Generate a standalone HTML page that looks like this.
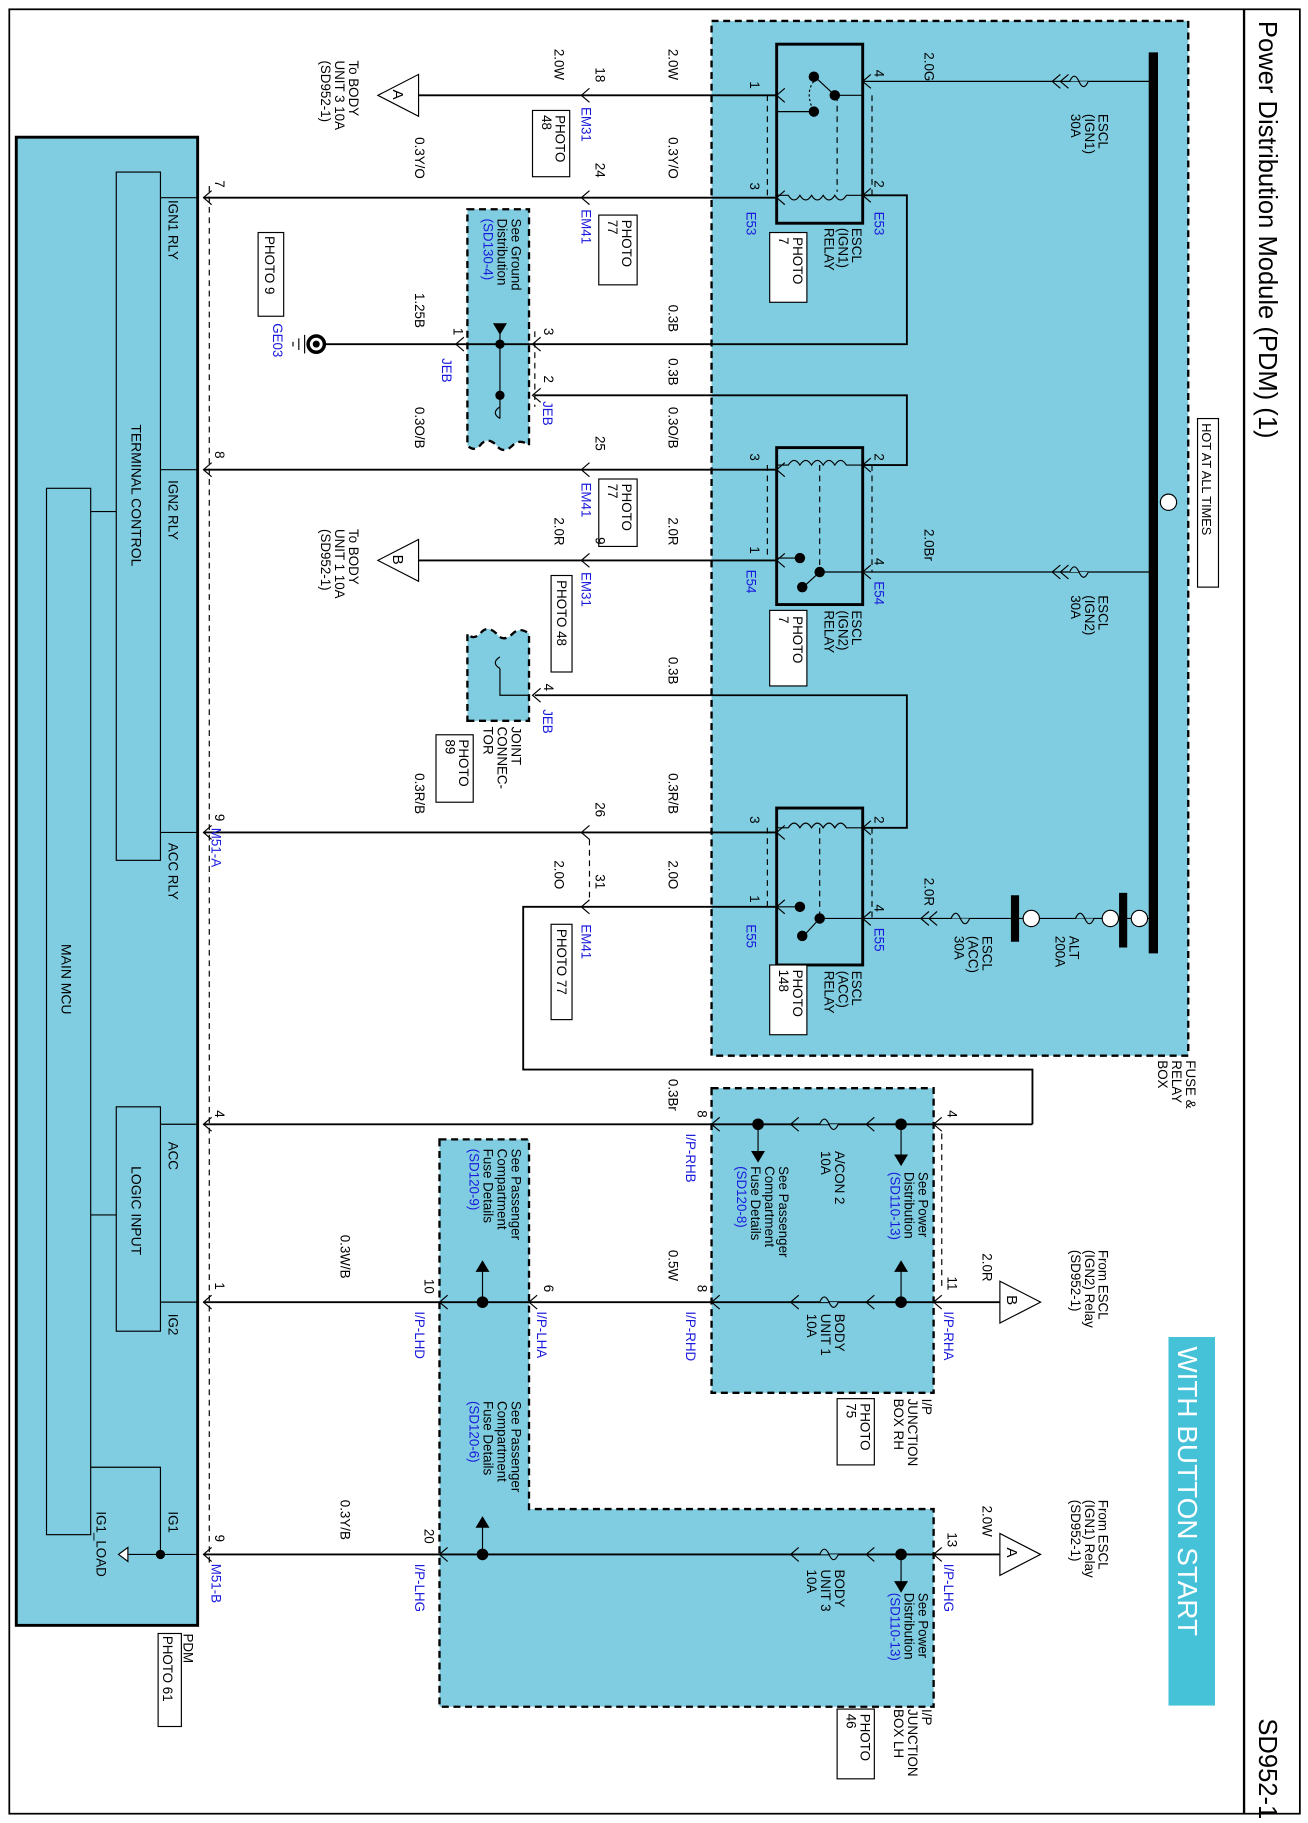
<!DOCTYPE html>
<html><head><meta charset="utf-8"><style>
html,body{margin:0;padding:0;background:#fff}
svg{display:block}
text{font-family:"Liberation Sans",sans-serif;font-size:11.5px;fill:#000}
.b{fill:#1a1adc}
.w{stroke:#000;stroke-width:1.6;fill:none}
.t{stroke:#000;stroke-width:1;fill:none}
.d{stroke:#000;stroke-width:1;fill:none;stroke-dasharray:5,4}
.box{fill:#80cde1;stroke:#000;stroke-width:2;stroke-dasharray:6,4}
</style></head><body>
<svg width="1308" height="1823" viewBox="0 0 1125 1568" preserveAspectRatio="none" xmlns="http://www.w3.org/2000/svg">
<defs>
<g id="cl"><polyline points="7,-6 0,0 7,6" class="t"/></g>
</defs>
<rect x="0" y="0" width="1125" height="1568" fill="#fff"/>
<rect x="8" y="8" width="1110" height="1552" fill="none" stroke="#000" stroke-width="1.5"/>
<line x1="1070" y1="8" x2="1070" y2="1560" stroke="#000" stroke-width="2"/>

<rect x="612" y="18" width="410" height="890" class="box"/>
<rect x="612" y="936" width="191" height="262" class="box"/>
<path d="M378,980 L455,980 L455,1298 L803,1298 L803,1468 L378,1468 Z" class="box"/>
<path d="M402,180 L455,180 L455,383 q-8,-6 -14,0 q-8,8 -14,0 q-8,-8 -14,0 q-6,6 -11,0 Z" class="box"/>
<path d="M402,620 L455,620 L455,545 q-8,-6 -14,0 q-8,8 -14,0 q-8,-8 -14,0 q-6,6 -11,0 Z" class="box"/>
<rect x="14" y="118" width="156" height="1280" fill="#80cde1" stroke="#000" stroke-width="2.5"/>
<rect x="100" y="148" width="38" height="592" fill="#80cde1" stroke="#000" stroke-width="1"/>
<rect x="40" y="420" width="38" height="900" fill="#80cde1" stroke="#000" stroke-width="1"/>
<rect x="100" y="952" width="38" height="193" fill="#80cde1" stroke="#000" stroke-width="1"/>
<line x1="78" y1="440" x2="100" y2="440" class="t"/>
<line x1="78" y1="1045" x2="100" y2="1045" class="t"/>
<line x1="180" y1="160" x2="180" y2="1345" class="d"/>
<line x1="138" y1="170" x2="170" y2="170" class="t"/>
<line x1="138" y1="404" x2="170" y2="404" class="t"/>
<line x1="138" y1="716" x2="170" y2="716" class="t"/>
<line x1="138" y1="967" x2="170" y2="967" class="t"/>
<line x1="138" y1="1120" x2="170" y2="1120" class="t"/>
<line x1="110" y1="1337" x2="170" y2="1337" class="t"/>
<polyline points="138,1337 138,1262 78,1262" class="t"/>
<circle cx="138" cy="1337" r="4"/>
<polygon points="110,1331 110,1343 102,1337" fill="#fff" stroke="#000"/>

<line x1="992" y1="45" x2="992" y2="820" stroke="#000" stroke-width="8"/>
<circle cx="1005" cy="432" r="7" fill="#fff" stroke="#000"/>
<rect x="1030" y="360" width="18" height="145" fill="#fff" stroke="#000"/>
<rect x="1005" y="1150" width="40" height="317" fill="#45c1d8"/>

<g>
<rect x="668" y="38" width="74" height="154" fill="none" stroke="#000" stroke-width="2.5"/>
<rect x="668" y="385" width="74" height="135" fill="none" stroke="#000" stroke-width="2.5"/>
<rect x="668" y="695" width="74" height="135" fill="none" stroke="#000" stroke-width="2.5"/>
<circle cx="700" cy="66" r="4.5"/><circle cx="718" cy="82" r="4.5"/><circle cx="700" cy="96" r="4.5"/>
<line x1="718" y1="82" x2="703" y2="68" class="t"/>
<line x1="668" y1="96" x2="700" y2="96" class="t"/><line x1="718" y1="82" x2="742" y2="82" class="t"/>
<path d="M700,70 q-8,10 0,26" class="t" stroke-dasharray="2,2"/>
<line x1="720" y1="82" x2="720" y2="165" class="d"/>
<path d="M668,168 L678,168 q5,8 10,0 q5,8 10,0 q5,8 10,0 q5,8 10,0 q5,8 10,0 L742,168" class="t"/>
<line x1="660" y1="82" x2="660" y2="168" class="d"/><line x1="750" y1="82" x2="750" y2="168" class="d"/>
<path d="M668,400 L678,400 q5,-8 10,0 q5,-8 10,0 q5,-8 10,0 q5,-8 10,0 q5,-8 10,0 L742,400" class="t"/>
<line x1="705" y1="400" x2="705" y2="490" class="d"/>
<circle cx="688" cy="480" r="4.5"/><circle cx="705" cy="492" r="4.5"/><circle cx="690" cy="505" r="4.5"/>
<line x1="668" y1="480" x2="688" y2="480" class="t"/><line x1="705" y1="492" x2="742" y2="492" class="t"/>
<line x1="705" y1="492" x2="693" y2="503" class="t"/>
<line x1="660" y1="400" x2="660" y2="480" class="d"/><line x1="750" y1="400" x2="750" y2="492" class="d"/>
<path d="M668,712 L678,712 q5,-8 10,0 q5,-8 10,0 q5,-8 10,0 q5,-8 10,0 q5,-8 10,0 L742,712" class="t"/>
<line x1="705" y1="712" x2="705" y2="790" class="d"/>
<circle cx="688" cy="780" r="4.5"/><circle cx="705" cy="790" r="4.5"/><circle cx="690" cy="805" r="4.5"/>
<line x1="668" y1="780" x2="688" y2="780" class="t"/><line x1="705" y1="790" x2="742" y2="790" class="t"/>
<line x1="705" y1="790" x2="693" y2="803" class="t"/>
<line x1="660" y1="712" x2="660" y2="780" class="d"/><line x1="750" y1="712" x2="750" y2="790" class="d"/>
</g>

<line x1="742" y1="70" x2="992" y2="70" class="t"/>
<use href="#cl" x="742" y="70"/><use href="#cl" x="905" y="70"/><use href="#cl" x="912" y="70"/>
<path d="M920,70 q4,-9 8,0 q4,9 8,0" fill="#80cde1" stroke="#000"/>
<line x1="742" y1="492" x2="992" y2="492" class="t"/>
<use href="#cl" x="742" y="492"/><use href="#cl" x="905" y="492"/><use href="#cl" x="912" y="492"/>
<path d="M920,492 q4,-9 8,0 q4,9 8,0" fill="#80cde1" stroke="#000"/>
<line x1="742" y1="790" x2="992" y2="790" class="t"/>
<use href="#cl" x="742" y="790"/><use href="#cl" x="792" y="790"/><use href="#cl" x="799" y="790"/>
<path d="M818,790 q4,-9 8,0 q4,9 8,0" fill="#80cde1" stroke="#000"/>
<path d="M925,790 q4,-9 8,0 q4,9 8,0" fill="#80cde1" stroke="#000"/>
<line x1="873" y1="770" x2="873" y2="810" stroke="#000" stroke-width="7"/>
<line x1="966" y1="768" x2="966" y2="815" stroke="#000" stroke-width="7"/>
<circle cx="887" cy="790" r="7" fill="#fff" stroke="#000"/>
<circle cx="955" cy="790" r="7" fill="#fff" stroke="#000"/>
<circle cx="980" cy="790" r="7" fill="#fff" stroke="#000"/>

<polyline points="742,168 780,168 780,296 460,296" class="w"/>
<polyline points="742,400 780,400 780,340 460,340" class="w"/>
<polyline points="742,712 780,712 780,598 460,598" class="w"/>
<use href="#cl" x="742" y="168"/><use href="#cl" x="742" y="400"/><use href="#cl" x="742" y="712"/>

<line x1="360" y1="82" x2="668" y2="82" class="w"/><use href="#cl" x="668" y="82"/><use href="#cl" x="500" y="82"/>
<line x1="175" y1="170" x2="668" y2="170" class="w"/><use href="#cl" x="668" y="170"/><use href="#cl" x="500" y="170"/><use href="#cl" x="175" y="170"/>
<line x1="280" y1="296" x2="460" y2="296" class="w"/><use href="#cl" x="458" y="296"/><use href="#cl" x="392" y="296"/>
<use href="#cl" x="458" y="340"/>
<line x1="175" y1="404" x2="668" y2="404" class="w"/><use href="#cl" x="668" y="404"/><use href="#cl" x="500" y="404"/><use href="#cl" x="175" y="404"/>
<line x1="360" y1="482" x2="668" y2="482" class="w"/><use href="#cl" x="668" y="482"/><use href="#cl" x="500" y="482"/>
<use href="#cl" x="458" y="598"/>
<line x1="175" y1="716" x2="668" y2="716" class="w"/><use href="#cl" x="668" y="716"/><use href="#cl" x="500" y="716"/><use href="#cl" x="175" y="716"/>
<polyline points="668,780 450,780 450,920 888,920 888,967" class="w"/><use href="#cl" x="668" y="780"/><use href="#cl" x="500" y="780"/>
<line x1="507" y1="722" x2="507" y2="774" class="d"/>
<line x1="430" y1="280" x2="430" y2="360" class="t"/><circle cx="430" cy="296" r="4"/><circle cx="430" cy="340" r="4"/>
<polygon points="424,278 436,278 430,288"/>
<path d="M430,350 q-8,5 0,10" class="t"/>
<polyline points="455,598 430,598 430,575" class="t"/><path d="M430,575 q-8,-5 0,-10" class="t"/>
<line x1="460" y1="285" x2="460" y2="350" class="d"/>
<circle cx="272" cy="296" r="7" fill="#fff" stroke="#000" stroke-width="3"/><circle cx="272" cy="296" r="3"/>
<line x1="262" y1="288" x2="262" y2="304" class="t"/><line x1="257" y1="291" x2="257" y2="301" class="t"/><line x1="252" y1="294" x2="252" y2="298" class="t"/>
<polygon points="360,64 360,100 325,82" fill="#fff" stroke="#000"/>
<polygon points="360,464 360,500 325,482" fill="#fff" stroke="#000"/>
<polygon points="860,1102 860,1138 895,1120" fill="#fff" stroke="#000"/>
<polygon points="860,1319 860,1355 895,1337" fill="#fff" stroke="#000"/>

<line x1="175" y1="967" x2="888" y2="967" class="w"/><use href="#cl" x="803" y="967"/><use href="#cl" x="612" y="967"/><use href="#cl" x="175" y="967"/>
<use href="#cl" x="745" y="967"/><use href="#cl" x="680" y="967"/>
<path d="M705,967 q4,-9 8,0 q4,9 8,0" fill="#80cde1" stroke="#000"/>
<circle cx="775" cy="967" r="5"/><circle cx="652" cy="967" r="5"/>
<line x1="775" y1="967" x2="775" y2="995" class="t"/><polygon points="769,993 781,993 775,1003"/>
<line x1="652" y1="967" x2="652" y2="992" class="t"/><polygon points="646,990 658,990 652,1000"/>
<line x1="175" y1="1120" x2="860" y2="1120" class="w"/>
<use href="#cl" x="803" y="1120"/><use href="#cl" x="612" y="1120"/><use href="#cl" x="455" y="1120"/><use href="#cl" x="378" y="1120"/><use href="#cl" x="175" y="1120"/>
<use href="#cl" x="745" y="1120"/><use href="#cl" x="680" y="1120"/>
<path d="M705,1120 q4,-9 8,0 q4,9 8,0" fill="#80cde1" stroke="#000"/>
<circle cx="775" cy="1120" r="5"/><circle cx="415" cy="1120" r="5"/>
<line x1="775" y1="1120" x2="775" y2="1092" class="t"/><polygon points="769,1094 781,1094 775,1084"/>
<line x1="415" y1="1120" x2="415" y2="1092" class="t"/><polygon points="409,1094 421,1094 415,1084"/>
<line x1="175" y1="1337" x2="860" y2="1337" class="w"/>
<use href="#cl" x="803" y="1337"/><use href="#cl" x="378" y="1337"/><use href="#cl" x="175" y="1337"/>
<use href="#cl" x="745" y="1337"/><use href="#cl" x="680" y="1337"/>
<path d="M705,1337 q4,-9 8,0 q4,9 8,0" fill="#80cde1" stroke="#000"/>
<circle cx="775" cy="1337" r="5"/><circle cx="415" cy="1337" r="5"/>
<line x1="775" y1="1337" x2="775" y2="1362" class="t"/><polygon points="769,1360 781,1360 775,1370"/>
<line x1="415" y1="1337" x2="415" y2="1312" class="t"/><polygon points="409,1314 421,1314 415,1304"/>
<line x1="810" y1="975" x2="810" y2="1110" class="d"/>

<g fill="#fff" stroke="#000" stroke-width="1">
<rect x="662" y="200" width="32" height="60"/><rect x="662" y="525" width="32" height="65"/><rect x="662" y="830" width="32" height="60"/>
<rect x="458" y="95" width="32" height="57"/><rect x="515" y="185" width="33" height="60"/><rect x="222" y="200" width="22" height="72"/>
<rect x="515" y="412" width="33" height="58"/><rect x="474" y="495" width="18" height="83"/><rect x="375" y="632" width="32" height="58"/>
<rect x="474" y="795" width="18" height="82"/><rect x="720" y="1203" width="32" height="57"/><rect x="720" y="1470" width="32" height="60"/>
<rect x="136" y="1405" width="20" height="80"/>
</g>

<g transform="rotate(90)">
<text x="18" y="-1083" style="font-size:22px">Power Distribution Module (PDM) (1)</text>
<text x="1478" y="-1083" style="font-size:22px">SD952-1</text>
<text x="1158" y="-1013" style="font-size:24px;fill:#fff">WITH BUTTON START</text>
<text x="364" y="-1034" style="font-size:11px">HOT AT ALL TIMES</text>
<text x="912" y="-1020"><tspan>FUSE &amp;</tspan><tspan x="912" dy="12">RELAY</tspan><tspan x="912" dy="12">BOX</tspan></text>
<text x="98" y="-945"><tspan>ESCL</tspan><tspan x="98" dy="12">(IGN1)</tspan><tspan x="98" dy="12">30A</tspan></text>
<text x="512" y="-945"><tspan>ESCL</tspan><tspan x="512" dy="12">(IGN2)</tspan><tspan x="512" dy="12">30A</tspan></text>
<text x="805" y="-845"><tspan>ESCL</tspan><tspan x="805" dy="12">(ACC)</tspan><tspan x="805" dy="12">30A</tspan></text>
<text x="805" y="-920"><tspan>ALT</tspan><tspan x="805" dy="12">200A</tspan></text>
<text x="45" y="-795">2.0G</text><text x="455" y="-795">2.0Br</text><text x="755" y="-795">2.0R</text>
<text x="60" y="-752">4</text><text x="155" y="-752">2</text><text x="182" y="-752" class="b">E53</text>
<text x="70" y="-645">1</text><text x="157" y="-645">3</text><text x="182" y="-642" class="b">E53</text>
<text x="196" y="-733"><tspan>ESCL</tspan><tspan x="196" dy="12">(IGN1)</tspan><tspan x="196" dy="12">RELAY</tspan></text>
<text x="204" y="-682"><tspan>PHOTO</tspan><tspan x="204" dy="12">7</tspan></text>
<text x="390" y="-752">2</text><text x="480" y="-752">4</text><text x="500" y="-752" class="b">E54</text>
<text x="390" y="-645">3</text><text x="470" y="-645">1</text><text x="490" y="-642" class="b">E54</text>
<text x="525" y="-733"><tspan>ESCL</tspan><tspan x="525" dy="12">(IGN2)</tspan><tspan x="525" dy="12">RELAY</tspan></text>
<text x="530" y="-682"><tspan>PHOTO</tspan><tspan x="530" dy="12">7</tspan></text>
<text x="702" y="-752">2</text><text x="778" y="-752">4</text><text x="798" y="-752" class="b">E55</text>
<text x="702" y="-645">3</text><text x="770" y="-645">1</text><text x="795" y="-642" class="b">E55</text>
<text x="835" y="-733"><tspan>ESCL</tspan><tspan x="835" dy="12">(ACC)</tspan><tspan x="835" dy="12">RELAY</tspan></text>
<text x="834" y="-682"><tspan>PHOTO</tspan><tspan x="834" dy="12">148</tspan></text>

<text x="42" y="-575">2.0W</text><text x="58" y="-512">18</text><text x="92" y="-500" class="b">EM31</text>
<text x="99" y="-478"><tspan>PHOTO</tspan><tspan x="99" dy="12">48</tspan></text>
<text x="42" y="-477">2.0W</text>
<text x="77" y="-338" style="font-size:13px">A</text>
<text x="52" y="-300"><tspan>To BODY</tspan><tspan x="52" dy="12">UNIT 3 10A</tspan><tspan x="52" dy="12">(SD952-1)</tspan></text>
<text x="118" y="-575">0.3Y/O</text><text x="140" y="-512">24</text><text x="180" y="-500" class="b">EM41</text>
<text x="189" y="-535"><tspan>PHOTO</tspan><tspan x="189" dy="12">77</tspan></text>
<text x="118" y="-357">0.3Y/O</text><text x="155" y="-185">7</text>
<text x="262" y="-575">0.3B</text><text x="282" y="-468">3</text>
<text x="282" y="-390">1</text><text x="308" y="-380" class="b">JEB</text>
<text x="252" y="-357">1.25B</text><text x="278" y="-235" class="b">GE03</text>
<text x="203" y="-228">PHOTO 9</text>
<text x="308" y="-575">0.3B</text><text x="323" y="-468">2</text><text x="345" y="-467" class="b">JEB</text>
<text x="188" y="-440"><tspan>See Ground</tspan><tspan x="188" dy="12">Distribution</tspan><tspan x="188" dy="12" class="b">(SD130-4)</tspan></text>
<text x="350" y="-575">0.3O/B</text><text x="375" y="-512">25</text><text x="415" y="-500" class="b">EM41</text>
<text x="416" y="-535"><tspan>PHOTO</tspan><tspan x="416" dy="12">77</tspan></text>
<text x="350" y="-357">0.3O/B</text><text x="388" y="-185">8</text>
<text x="445" y="-575">2.0R</text><text x="462" y="-512">9</text><text x="492" y="-500" class="b">EM31</text>
<text x="499" y="-479">PHOTO 48</text>
<text x="445" y="-477">2.0R</text>
<text x="477" y="-338" style="font-size:13px">B</text>
<text x="455" y="-300"><tspan>To BODY</tspan><tspan x="455" dy="12">UNIT 1 10A</tspan><tspan x="455" dy="12">(SD952-1)</tspan></text>
<text x="565" y="-575">0.3B</text><text x="588" y="-468">4</text><text x="610" y="-467" class="b">JEB</text>
<text x="625" y="-440"><tspan>JOINT</tspan><tspan x="625" dy="12">CONNEC-</tspan><tspan x="625" dy="12">TOR</tspan></text>
<text x="636" y="-395"><tspan>PHOTO</tspan><tspan x="636" dy="12">89</tspan></text>
<text x="665" y="-575">0.3R/B</text><text x="690" y="-512">26</text>
<text x="665" y="-357">0.3R/B</text><text x="700" y="-185">9</text><text x="712" y="-182" class="b">M51-A</text>
<text x="740" y="-575">2.0O</text><text x="752" y="-512">31</text><text x="795" y="-500" class="b">EM41</text>
<text x="799" y="-479">PHOTO 77</text>
<text x="740" y="-477">2.0O</text>

<text x="928" y="-575">0.3Br</text><text x="955" y="-600">8</text><text x="975" y="-590" class="b">I/P-RHB</text>
<text x="955" y="-815">4</text><text x="955" y="-185">4</text>
<text x="1008" y="-790"><tspan>See Power</tspan><tspan x="1008" dy="12">Distribution</tspan><tspan x="1008" dy="12" class="b">(SD110-13)</tspan></text>
<text x="990" y="-718"><tspan>A/CON 2</tspan><tspan x="990" dy="12">10A</tspan></text>
<text x="1003" y="-670"><tspan>See Passenger</tspan><tspan x="1003" dy="12">Compartment</tspan><tspan x="1003" dy="12">Fuse Details</tspan><tspan x="1003" dy="12" class="b">(SD120-8)</tspan></text>
<text x="1130" y="-718"><tspan>BODY</tspan><tspan x="1130" dy="12">UNIT 1</tspan><tspan x="1130" dy="12">10A</tspan></text>
<text x="1203" y="-793"><tspan>I/P</tspan><tspan x="1203" dy="12">JUNCTION</tspan><tspan x="1203" dy="12">BOX RH</tspan></text>
<text x="1207" y="-740"><tspan>PHOTO</tspan><tspan x="1207" dy="12">75</tspan></text>
<text x="1078" y="-845">2.0R</text><text x="1098" y="-815">11</text><text x="1128" y="-812" class="b">I/P-RHA</text>
<text x="1114" y="-866" style="font-size:13px">B</text>
<text x="1075" y="-945"><tspan>From ESCL</tspan><tspan x="1075" dy="12">(IGN2) Relay</tspan><tspan x="1075" dy="12">(SD952-1)</tspan></text>
<text x="1075" y="-575">0.5W</text><text x="1105" y="-600">8</text><text x="1128" y="-590" class="b">I/P-RHD</text>
<text x="1105" y="-468">6</text><text x="1128" y="-462" class="b">I/P-LHA</text>
<text x="1100" y="-365">10</text><text x="1128" y="-357" class="b">I/P-LHD</text>
<text x="1062" y="-293">0.3W/B</text><text x="1103" y="-185">1</text>
<text x="988" y="-440"><tspan>See Passenger</tspan><tspan x="988" dy="12">Compartment</tspan><tspan x="988" dy="12">Fuse Details</tspan><tspan x="988" dy="12" class="b">(SD120-9)</tspan></text>
<text x="1205" y="-440"><tspan>See Passenger</tspan><tspan x="1205" dy="12">Compartment</tspan><tspan x="1205" dy="12">Fuse Details</tspan><tspan x="1205" dy="12" class="b">(SD120-6)</tspan></text>
<text x="1295" y="-845">2.0W</text><text x="1318" y="-815">13</text><text x="1345" y="-812" class="b">I/P-LHG</text>
<text x="1331" y="-866" style="font-size:13px">A</text>
<text x="1290" y="-945"><tspan>From ESCL</tspan><tspan x="1290" dy="12">(IGN1) Relay</tspan><tspan x="1290" dy="12">(SD952-1)</tspan></text>
<text x="1350" y="-718"><tspan>BODY</tspan><tspan x="1350" dy="12">UNIT 3</tspan><tspan x="1350" dy="12">10A</tspan></text>
<text x="1370" y="-790"><tspan>See Power</tspan><tspan x="1370" dy="12">Distribution</tspan><tspan x="1370" dy="12" class="b">(SD110-13)</tspan></text>
<text x="1315" y="-365">20</text><text x="1345" y="-357" class="b">I/P-LHG</text>
<text x="1290" y="-293">0.3Y/B</text><text x="1320" y="-185">9</text><text x="1345" y="-182" class="b">M51-B</text>
<text x="1470" y="-793"><tspan>I/P</tspan><tspan x="1470" dy="12">JUNCTION</tspan><tspan x="1470" dy="12">BOX LH</tspan></text>
<text x="1474" y="-740"><tspan>PHOTO</tspan><tspan x="1474" dy="12">46</tspan></text>
<text x="1405" y="-158">PDM</text><text x="1407" y="-140">PHOTO 61</text>
<text x="172" y="-145">IGN1 RLY</text><text x="413" y="-145">IGN2 RLY</text><text x="725" y="-145">ACC RLY</text>
<text x="982" y="-145">ACC</text><text x="1130" y="-145">IG2</text><text x="1300" y="-145">IG1</text>
<text x="1300" y="-83">IG1_LOAD</text>
<text x="365" y="-113" style="font-size:12px">TERMINAL CONTROL</text>
<text x="1003" y="-113" style="font-size:12px">LOGIC INPUT</text>
<text x="812" y="-53" style="font-size:12px">MAIN MCU</text>
</g>
</svg>
</body></html>
